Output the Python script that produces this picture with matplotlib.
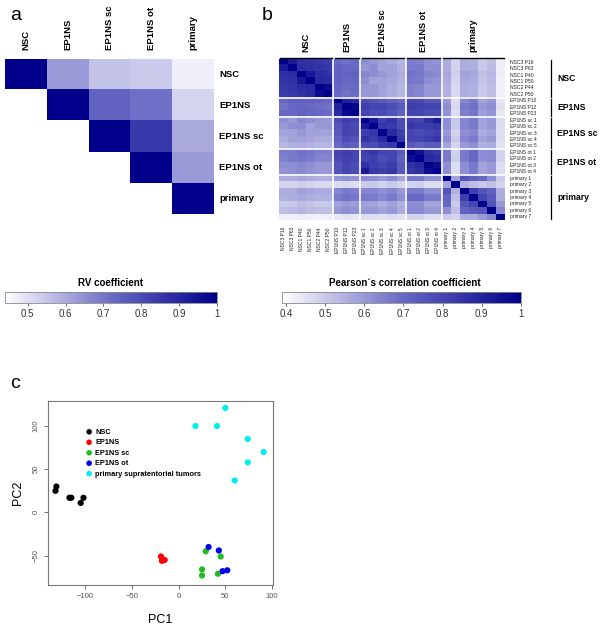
import numpy as np
import matplotlib
matplotlib.use("Agg")
import matplotlib.pyplot as plt
from matplotlib.colors import LinearSegmentedColormap

plt.rcParams['font.family'] = ['Liberation Sans', 'DejaVu Sans']

# ---- panel a: RV coefficients between groups (upper triangle)
rv_groups = ["NSC", "EP1NS", "EP1NS sc", "EP1NS ot", "primary"]
rv_upper = [
    [1.00, 0.63, 0.55, 0.54, 0.47],
    [None, 1.00, 0.74, 0.71, 0.52],
    [None, None, 1.00, 0.85, 0.60],
    [None, None, None, 1.00, 0.63],
    [None, None, None, None, 1.00],
]

# ---- panel b: Pearson correlation between samples (lower triangle, row by row)
sample_names = ["NSC3 P16", "NSC3 P63", "NSC1 P40", "NSC1 P50", "NSC2 P44", "NSC2 P50",
                "EP1NS P10", "EP1NS P12", "EP1NS P23",
                "EP1NS sc 1", "EP1NS sc 2", "EP1NS sc 3", "EP1NS sc 4", "EP1NS sc 5",
                "EP1NS ot 1", "EP1NS ot 2", "EP1NS ot 3", "EP1NS ot 4",
                "primary 1", "primary 2", "primary 3", "primary 4", "primary 5", "primary 6", "primary 7"]
group_names = ["NSC", "EP1NS", "EP1NS sc", "EP1NS ot", "primary"]
group_sizes = [6, 3, 5, 4, 7]
pearson_lower = [
    [],
    [0.92],
    [0.86, 0.87],
    [0.85, 0.86, 0.93],
    [0.84, 0.85, 0.87, 0.88],
    [0.83, 0.84, 0.86, 0.88, 0.96],
    [0.70, 0.72, 0.72, 0.72, 0.71, 0.70],
    [0.68, 0.70, 0.71, 0.70, 0.69, 0.68, 0.90],
    [0.70, 0.70, 0.72, 0.71, 0.70, 0.69, 0.88, 0.97],
    [0.62, 0.60, 0.64, 0.62, 0.60, 0.60, 0.78, 0.82, 0.80],
    [0.60, 0.62, 0.62, 0.58, 0.60, 0.60, 0.76, 0.80, 0.78, 0.93],
    [0.58, 0.58, 0.60, 0.58, 0.58, 0.58, 0.74, 0.80, 0.79, 0.82, 0.84],
    [0.56, 0.58, 0.58, 0.57, 0.56, 0.56, 0.72, 0.78, 0.76, 0.85, 0.83, 0.88],
    [0.54, 0.55, 0.56, 0.55, 0.54, 0.54, 0.70, 0.74, 0.72, 0.78, 0.78, 0.82, 0.84],
    [0.66, 0.66, 0.68, 0.67, 0.65, 0.65, 0.80, 0.82, 0.80, 0.82, 0.84, 0.80, 0.80, 0.74],
    [0.65, 0.66, 0.67, 0.66, 0.64, 0.64, 0.79, 0.81, 0.80, 0.80, 0.82, 0.78, 0.80, 0.72, 0.95],
    [0.62, 0.62, 0.64, 0.62, 0.60, 0.60, 0.76, 0.80, 0.78, 0.86, 0.82, 0.80, 0.82, 0.74, 0.86, 0.88],
    [0.61, 0.62, 0.63, 0.61, 0.60, 0.60, 0.76, 0.80, 0.78, 0.92, 0.84, 0.82, 0.84, 0.74, 0.84, 0.86, 0.96],
    [0.56, 0.56, 0.57, 0.56, 0.55, 0.55, 0.60, 0.62, 0.61, 0.62, 0.62, 0.60, 0.62, 0.58, 0.66, 0.66, 0.62, 0.62],
    [0.48, 0.48, 0.49, 0.48, 0.47, 0.47, 0.46, 0.47, 0.46, 0.50, 0.50, 0.48, 0.50, 0.48, 0.48, 0.49, 0.46, 0.46, 0.58],
    [0.56, 0.56, 0.58, 0.57, 0.56, 0.56, 0.64, 0.66, 0.65, 0.64, 0.64, 0.62, 0.64, 0.60, 0.66, 0.66, 0.62, 0.62, 0.76, 0.55],
    [0.55, 0.56, 0.57, 0.56, 0.55, 0.55, 0.66, 0.68, 0.67, 0.66, 0.66, 0.64, 0.66, 0.62, 0.70, 0.70, 0.66, 0.66, 0.72, 0.52, 0.82],
    [0.50, 0.50, 0.52, 0.51, 0.50, 0.50, 0.58, 0.60, 0.59, 0.58, 0.58, 0.56, 0.58, 0.55, 0.62, 0.62, 0.58, 0.58, 0.70, 0.50, 0.76, 0.80],
    [0.52, 0.53, 0.54, 0.53, 0.52, 0.52, 0.60, 0.62, 0.61, 0.60, 0.60, 0.58, 0.60, 0.56, 0.63, 0.63, 0.60, 0.60, 0.62, 0.52, 0.72, 0.74, 0.76],
    [0.42, 0.42, 0.43, 0.42, 0.42, 0.42, 0.44, 0.45, 0.44, 0.46, 0.46, 0.45, 0.46, 0.45, 0.48, 0.48, 0.46, 0.46, 0.50, 0.48, 0.56, 0.56, 0.60, 0.64],
]

# ---- panel c: PCA scores
nsc_pc1 = [-131, -132, -117, -115, -102, -105]
nsc_pc2 = [30, 25, 17, 17, 17, 11]
ep_pc1 = [-19, -18, -15]
ep_pc2 = [-51, -56, -55]
sc_pc1 = [29, 45, 25, 25, 42]
sc_pc2 = [-45, -51, -66, -73, -71]
ot_pc1 = [32, 43, 47, 52]
ot_pc2 = [-40, -44, -68, -67]
prim_pc1 = [50, 18, 41, 74, 91, 74, 60]
prim_pc2 = [121, 100, 100, 85, 70, 58, 37]

W, H = 602, 629
fig = plt.figure(figsize=(W / 100, H / 100), dpi=100)


def box(x0, y0, x1, y1):
    # pixel box (top-left origin) -> figure fraction
    return [x0 / W, 1 - y1 / H, (x1 - x0) / W, (y1 - y0) / H]


cmap = LinearSegmentedColormap.from_list("wb", ["#ffffff", "#6a6ac6", "#00008b"])
cmap.set_bad("white")

# ================= panel a
axa = fig.add_axes(box(5, 59, 214, 214))
rv = np.array([[np.nan if v is None else v for v in row] for row in rv_upper])
im_a = axa.imshow(np.ma.masked_invalid(rv), cmap=cmap, vmin=0.44, vmax=1.0, aspect="auto",
                  interpolation="nearest")
axa.set_axis_off()
for i, g in enumerate(rv_groups):
    axa.text(i, -0.8, g, rotation=90, ha="center", va="bottom", fontsize=6.8, fontweight="bold")
    axa.text(4.62, i, g, ha="left", va="center", fontsize=6.8, fontweight="bold")

cax_a = fig.add_axes(box(5, 292, 217, 303))
cb_a = fig.colorbar(im_a, cax=cax_a, orientation="horizontal")
cb_a.set_ticks([0.5, 0.6, 0.7, 0.8, 0.9, 1.0])
cb_a.set_ticklabels(["0.5", "0.6", "0.7", "0.8", "0.9", "1"])
cb_a.outline.set_edgecolor("#888888")
cb_a.outline.set_linewidth(0.6)
cax_a.tick_params(length=2, width=0.5, labelsize=7, colors="#333333", pad=2)
fig.text(111 / W, 1 - 283 / H, "RV coefficient", ha="center", va="center", fontsize=7, fontweight="bold")

# ================= panel b
n = len(sample_names)
corr = np.ones((n, n))
for i, row in enumerate(pearson_lower):
    for j, v in enumerate(row):
        corr[i, j] = v
        corr[j, i] = v

axb = fig.add_axes(box(279, 59, 505, 220))
im_b = axb.imshow(corr, cmap=cmap, vmin=0.39, vmax=1.0, aspect="auto", interpolation="nearest")
axb.set_xlim(-0.5, n - 0.5)
axb.set_ylim(n - 0.5, -0.5)
axb.set_axis_off()
bounds = np.cumsum(group_sizes)
for b in bounds[:-1]:
    axb.axvline(b - 0.5, color="white", lw=1.2)
    axb.axhline(b - 0.5, color="white", lw=1.2)

start = 0
for g, size in zip(group_names, group_sizes):
    lo, hi = start - 0.5, start + size - 0.5
    mid = (lo + hi) / 2
    axb.plot([lo + 0.15, hi - 0.15], [-0.6, -0.6], color="black", lw=1.0, clip_on=False)
    axb.text(mid, -1.6, g, rotation=90, ha="center", va="bottom", fontsize=6.6, fontweight="bold")
    axb.plot([29.6, 29.6], [lo + 0.15, hi - 0.15], color="black", lw=0.9, clip_on=False)
    axb.text(30.3, mid, g, ha="left", va="center", fontsize=6.2, fontweight="bold")
    start += size

for i, s in enumerate(sample_names):
    axb.text(25.1, i, s, ha="left", va="center", fontsize=3.6, color="#222222")
    axb.text(i, 25.6, s, rotation=90, ha="center", va="top", fontsize=3.6, color="#222222")

cax_b = fig.add_axes(box(282, 292, 521, 303))
cb_b = fig.colorbar(im_b, cax=cax_b, orientation="horizontal")
cb_b.set_ticks([0.4, 0.5, 0.6, 0.7, 0.8, 0.9, 1.0])
cb_b.set_ticklabels(["0.4", "0.5", "0.6", "0.7", "0.8", "0.9", "1"])
cb_b.outline.set_edgecolor("#888888")
cb_b.outline.set_linewidth(0.6)
cax_b.tick_params(length=2, width=0.5, labelsize=7, colors="#333333", pad=2)
fig.text(405 / W, 1 - 283 / H, "Pearson\u00b4s correlation coefficient", ha="center", va="center",
         fontsize=7, fontweight="bold")

# ================= panel c
axc = fig.add_axes(box(48, 401, 273, 585))
kw = dict(s=20, edgecolors="none", zorder=3)
axc.scatter(nsc_pc1, nsc_pc2, color="black", label="NSC", **kw)
axc.scatter(ep_pc1, ep_pc2, color="#ff0000", label="EP1NS", **kw)
axc.scatter(sc_pc1, sc_pc2, color="#22bb22", label="EP1NS sc", **kw)
axc.scatter(ot_pc1, ot_pc2, color="#0000ee", label="EP1NS ot", **kw)
axc.scatter(prim_pc1, prim_pc2, color="#00eeee", label="primary supratentorial tumors", **kw)
axc.set_xlim(-140, 101)
axc.set_ylim(-84, 129)
axc.set_xticks([-100, -50, 0, 50, 100])
axc.set_yticks([-50, 0, 50, 100])
axc.tick_params(length=3, width=0.6, labelsize=5.5, colors="#555555", pad=3)
for lab in axc.get_yticklabels():
    lab.set_rotation(90)
    lab.set_va("center")
for sp in axc.spines.values():
    sp.set_color("#777777")
    sp.set_linewidth(0.8)
axc.set_xlabel("PC1", fontsize=9, labelpad=10)
axc.set_ylabel("PC2", fontsize=9, labelpad=6)
leg = axc.legend(loc="upper left", bbox_to_anchor=(0.15, 0.87), frameon=False,
                 prop={"size": 5.3, "weight": "bold"}, handletextpad=0.3, labelspacing=0.45,
                 markerscale=0.9, borderpad=0, handlelength=1.0)

# panel letters
fig.text(10 / W, 1 - 15 / H, "a", fontsize=14, ha="left", va="center")
fig.text(262 / W, 1 - 15 / H, "b", fontsize=14, ha="left", va="center")
fig.text(10 / W, 1 - 383 / H, "c", fontsize=14, ha="left", va="center")

fig.savefig("out.png", dpi=100)
